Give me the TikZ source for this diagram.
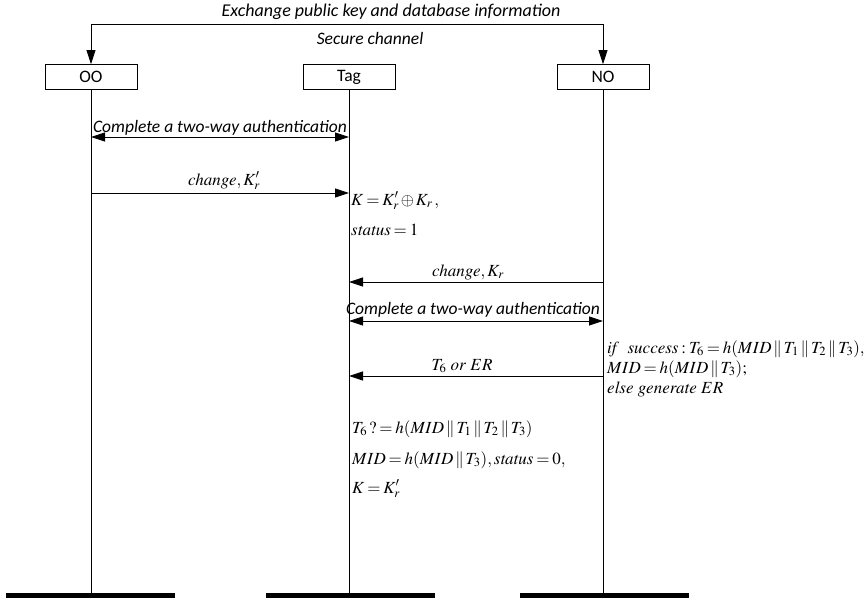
\documentclass[tikz,border=0pt]{standalone}
\usepackage{mathptmx}
\usepackage{fontspec}
\setmainfont{Liberation Serif}
\newfontfamily\sansfnt{Carlito}
\usetikzlibrary{arrows.meta}

% tighter relation spacing for the formulas
\newcommand\tightmath{\thickmuskip=3mu plus 1mu\medmuskip=2mu plus 1mu}

\begin{document}
\begin{tikzpicture}[x=1pt,y=-1pt,
  actor/.style={draw, line width=0.8pt, minimum width=92pt, minimum height=25pt,
    inner sep=0pt, font=\sansfnt\fontsize{17.5}{20}\selectfont},
  bar/.style={fill=black, draw=none, minimum width=169pt, minimum height=5pt, inner sep=0pt},
  life/.style={line width=0.8pt},
  msg/.style={line width=0.8pt, -{Triangle[length=14pt,width=9pt]}},
  dmsg/.style={line width=0.8pt, {Triangle[length=14pt,width=9pt]}-{Triangle[length=14pt,width=9pt]}},
  slbl/.style={font=\sansfnt\itshape\fontsize{17.5}{20}\selectfont, inner sep=0pt, anchor=base},
  mlbl/.style={font=\fontsize{17}{20}\selectfont\tightmath, inner sep=0pt, anchor=base},
  mtxt/.style={font=\fontsize{17}{20}\selectfont\tightmath, inner sep=0pt, anchor=base west}]
\useasboundingbox (0,0) rectangle (867,599);

% participants
\node[actor] (oo)  at (91,77)  {OO};
\node[actor] (tag) at (349,77) {Tag};
\node[actor] (no)  at (603,77) {NO};

% ground bars
\node[bar] (oobar)  at (90.5,595.5)  {};
\node[bar] (tagbar) at (350.5,595.5) {};
\node[bar] (nobar)  at (604,595.5)   {};

% lifelines
\draw[life] (oo.south)  -- (oo.south |- oobar.north);
\draw[life] (tag.south) -- (tag.south |- tagbar.north);
\draw[life] (no.south)  -- (no.south |- nobar.north);

% secure channel between OO and NO
\coordinate (chl) at (91,24);
\coordinate (chr) at (603,24);
\draw[dmsg] (oo.north) -- (chl) -- (chr) -- (no.north);
\node[slbl, font=\sansfnt\itshape\fontsize{18}{20}\selectfont] (exch) at (391,17) {Exchange public key and database information};
\node[slbl] (sec)  at (370,45) {Secure channel};

% message anchor points on the lifelines
\coordinate (oo1)  at (91,137);  \coordinate (tag1) at (349,137);
\coordinate (oo2)  at (91,193);  \coordinate (tag2) at (349,193);
\coordinate (no3)  at (603,282); \coordinate (tag3) at (349,282);
\coordinate (tag4) at (349,321); \coordinate (no4)  at (603,321);
\coordinate (no5)  at (603,376); \coordinate (tag5) at (349,376);

% messages
\draw[dmsg] (oo1) -- (tag1);
\node[slbl] (auth1) at (220,132) {Complete a two-way authentication};

\draw[msg] (oo2) -- (tag2);
\node[mlbl] (chg1) at (224,185) {$\mathit{change}, K_r'$};

\draw[msg] (no3) -- (tag3);
\node[mlbl] (chg2) at (468,276) {$\mathit{change}, K_r$};

\draw[dmsg] (tag4) -- (no4);
\node[slbl] (auth2) at (473,314) {Complete a two-way authentication};

\draw[msg] (no5) -- (tag5);
\node[mlbl] (t6) at (462,370) {$T_6\ \mathit{or}\ ER$};

% tag computations
\node[mtxt] (k1) at (351,205) {$K = K_r' \oplus K_r\,,$};
\node[mtxt] (s1) at (351,235) {$\mathit{status} = 1$};

% NO computations
\node[mtxt] (n1) at (607,353) {$\mathit{if}\ \ \mathit{success}: T_6 = h(MID \mathbin{\|} T_1 \mathbin{\|} T_2 \mathbin{\|} T_3),$};
\node[mtxt] (n2) at (607,373) {$MID = h(MID \mathbin{\|} T_3);$};
\node[mtxt] (n3) at (607,393) {$\mathit{else\ generate}\ ER$};

% tag verification
\node[mtxt] (v1) at (352,433) {$T_6\,? = h(MID \mathbin{\|} T_1 \mathbin{\|} T_2 \mathbin{\|} T_3)$};
\node[mtxt] (v2) at (352,464) {$MID = h(MID \mathbin{\|} T_3), \mathit{status} = 0,$};
\node[mtxt] (v3) at (352,493) {$K = K_r'$};
\end{tikzpicture}
\end{document}
